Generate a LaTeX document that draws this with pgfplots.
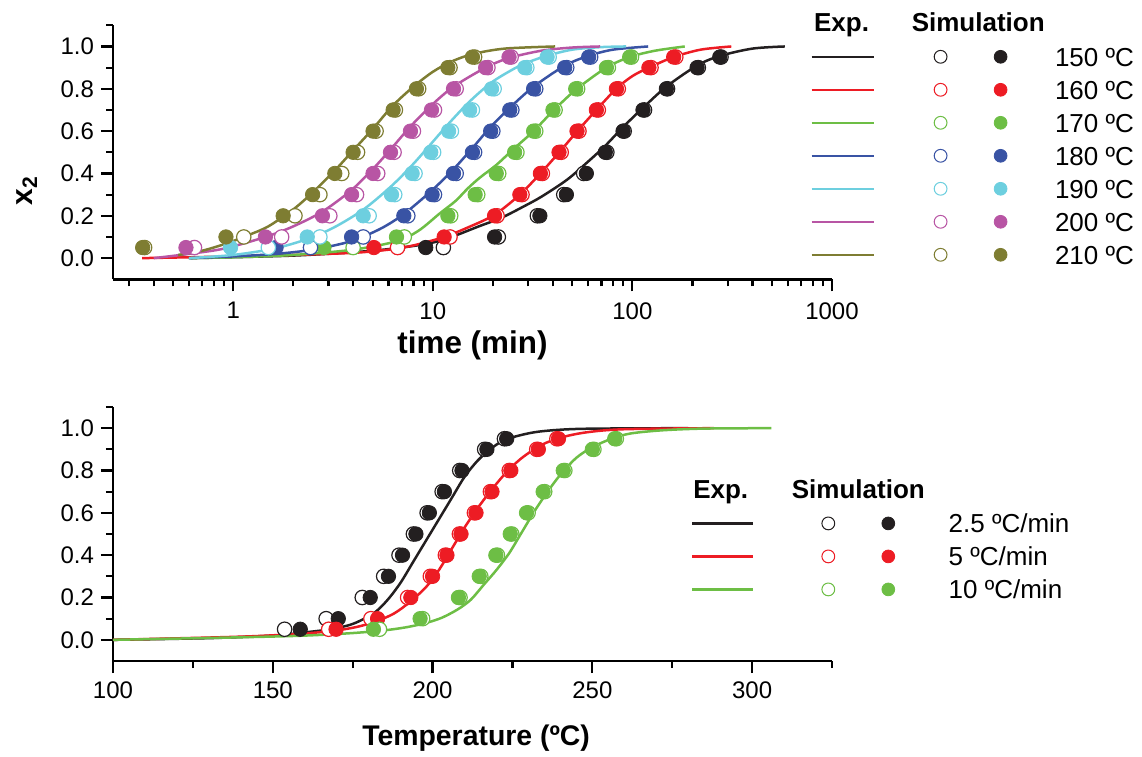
\documentclass[border=0pt]{standalone}
\usepackage{fontspec}
\setmainfont{Liberation Sans}
\usepackage{pgfplots}
\pgfplotsset{compat=1.18}
\definecolor{c150}{HTML}{231F20}
\definecolor{c160}{HTML}{ED1C24}
\definecolor{c170}{HTML}{6DBE45}
\definecolor{c180}{HTML}{3953A4}
\definecolor{c190}{HTML}{6DCFDF}
\definecolor{c200}{HTML}{B855A4}
\definecolor{c210}{HTML}{7E7D32}
\pgfplotsset{
  common/.style={
    width=359.5pt, height=127pt, scale only axis,
    axis lines*=left,
    axis line style={line width=1.3pt, black},
    tick align=outside,
    major tick length=6pt, minor tick length=3.5pt,
    every tick/.style={black, line width=1.1pt},
    ymin=-0.1, ymax=1.1,
    ytick={0,0.2,0.4,0.6,0.8,1.0},
    minor ytick={0.1,0.3,0.5,0.7,0.9,1.1},
    yticklabel style={/pgf/number format/.cd, fixed, fixed zerofill, precision=1},
    /pgf/number format/assume math mode=true,
    tick label style={font=\fontsize{12}{14}\selectfont},
    clip=false,
    legend style={draw=none, fill=none, inner sep=0pt, column sep=0pt, row sep=3.5pt,
      font=\fontsize{13}{15}\selectfont,
      nodes={inner sep=1pt, text height=9pt, text depth=2pt}},
    legend cell align=left,
  },
  ln/.style={color=#1, line width=1.25pt, smooth, no markers, forget plot},
  op/.style={only marks, mark=*, mark size=3.6pt, mark options={fill=white, draw=#1, line width=0.6pt}, forget plot},
  fl/.style={only marks, mark=*, mark size=3.6pt, color=#1, forget plot},
  legA/.style 2 args={legend image code/.code={
    \draw[color=#1, line width=1.2pt] (0pt,0pt) -- (31pt,0pt);
    \draw[draw=#1, fill=white, line width=0.5pt] (64.5pt,0pt) circle (3.2pt);
    \fill[color=#1] (94.5pt,0pt) circle (3.2pt);
    \node[anchor=base west, inner sep=0pt, text height=, text depth=, color=black, font=\fontsize{13}{15}\selectfont] at (121.5pt,-4.65pt) {#2};}},
  legB/.style 2 args={legend image code/.code={
    \draw[color=#1, line width=1.2pt] (0pt,0pt) -- (30.5pt,0pt);
    \draw[draw=#1, fill=white, line width=0.5pt] (68pt,0pt) circle (3.2pt);
    \fill[color=#1] (98pt,0pt) circle (3.2pt);
    \node[anchor=base west, inner sep=0pt, text height=, text depth=, color=black, font=\fontsize{13}{15}\selectfont] at (128pt,-4.65pt) {#2};}},
  headA/.style={legend image code/.code={
    \node[anchor=base, font=\bfseries\fontsize{13}{15}\selectfont, inner sep=0pt, text height=, text depth=, color=black] at (15pt,-4.65pt) {Exp.};
    \node[anchor=base, font=\bfseries\fontsize{13}{15}\selectfont, inner sep=0pt, text height=, text depth=, color=black] at (83.3pt,-4.65pt) {Simulation};}},
  headB/.style={legend image code/.code={
    \node[anchor=base, font=\bfseries\fontsize{13}{15}\selectfont, inner sep=0pt, text height=, text depth=, color=black] at (14.2pt,-4.65pt) {Exp.};
    \node[anchor=base, font=\bfseries\fontsize{13}{15}\selectfont, inner sep=0pt, text height=, text depth=, color=black] at (83pt,-4.65pt) {Simulation};}},
}
\begin{document}
\begin{tikzpicture}
\useasboundingbox (0pt,0pt) rectangle (571pt,378pt);
% ---------------- top panel ----------------
\begin{axis}[common, xmode=log,
  at={(56.5pt,238.35pt)}, anchor=south west,
  xmin=0.25, xmax=1000,
  xtick={1,10,100,1000}, xticklabels={1,10,100,1000},
  xticklabel style={yshift=-2pt},
  minor xtick={0.3,0.4,0.5,0.6,0.7,0.8,0.9,2,3,4,5,6,7,8,9,20,30,40,50,60,70,80,90,200,300,400,500,600,700,800,900},
  xlabel={time (min)},
  xlabel style={font=\bfseries\fontsize{15.7}{18}\selectfont, at={(axis description cs:0.50,-0.259)}, anchor=center},
  ylabel={x\textsubscript{2}},
  ylabel style={font=\bfseries\fontsize{15}{18}\selectfont, at={(axis description cs:-0.12,0.35)}, anchor=center},
  legend style={at={(axis description cs:0.9694,1.0654)}, anchor=north west},
]
% 150
\addplot[ln=c150] coordinates {(0.61,0) (2,0.012) (5,0.035) (9,0.065) (12,0.095) (17,0.15) (22,0.19) (28,0.24) (35,0.29) (47,0.37) (59,0.45) (73,0.53) (90,0.62) (113,0.71) (148,0.81) (211,0.91) (274,0.955) (400,0.99) (580,1.0)};
\addplot[op=c150] coordinates {(11.3,0.05) (21.3,0.1) (33.4,0.2) (45.3,0.3) (57,0.4) (74.5,0.5) (91,0.6) (115,0.7) (150,0.8) (214,0.9) (278,0.95)};
\addplot[fl=c150] coordinates {(9.22,0.05) (20.4,0.1) (34.4,0.2) (46.7,0.3) (58.8,0.4) (73.2,0.5) (89.8,0.6) (113,0.7) (148,0.8) (211,0.9) (274,0.95)};
% 160
\addplot[ln=c160] coordinates {(0.35,0) (1,0.008) (2,0.015) (4,0.025) (6,0.04) (8,0.06) (11.4,0.1) (15,0.145) (20.4,0.205) (27.3,0.3) (34.6,0.4) (43,0.5) (53,0.6) (66,0.7) (83,0.8) (100,0.86) (121,0.9) (161,0.95) (220,0.985) (313,1.0)};
\addplot[op=c160] coordinates {(6.66,0.05) (12.2,0.1) (21,0.2) (28,0.3) (35.4,0.4) (44,0.5) (54,0.6) (67.5,0.7) (85,0.8) (124,0.9) (165,0.95)};
\addplot[fl=c160] coordinates {(5.07,0.05) (11.4,0.1) (20.4,0.2) (27.3,0.3) (34.6,0.4) (42.9,0.5) (52.8,0.6) (66,0.7) (83.2,0.8) (121,0.9) (161,0.95)};
% 170
\addplot[ln=c170] coordinates {(0.6,0) (1,0.004) (2,0.015) (4,0.04) (6.6,0.08) (8.5,0.13) (10.8,0.21) (13,0.27) (15,0.33) (17.2,0.38) (20.8,0.44) (25.7,0.52) (32,0.6) (40,0.695) (52,0.795) (74,0.9) (97,0.95) (130,0.98) (183,1.0)};
\addplot[op=c170] coordinates {(3.99,0.05) (7.2,0.1) (12.3,0.2) (16.8,0.3) (21.4,0.4) (26.4,0.5) (32.8,0.6) (41,0.7) (53.2,0.8) (75.8,0.9) (99,0.95)};
\addplot[fl=c170] coordinates {(2.85,0.05) (6.58,0.1) (11.9,0.2) (16.3,0.3) (20.8,0.4) (25.7,0.5) (32.0,0.6) (40.0,0.7) (52.0,0.8) (74.1,0.9) (96.9,0.95)};
% 180
\addplot[ln=c180] coordinates {(0.6,0) (1,0.008) (1.64,0.02) (2.5,0.04) (3.9,0.08) (5.5,0.14) (7.2,0.21) (9.9,0.32) (12.7,0.42) (15.8,0.52) (19.5,0.62) (24.3,0.71) (32,0.81) (46,0.91) (60,0.955) (80,0.985) (120,1.0)};
\addplot[op=c180] coordinates {(2.44,0.05) (4.48,0.1) (7.5,0.2) (10.2,0.3) (13.1,0.4) (16.2,0.5) (20,0.6) (24.9,0.7) (32.8,0.8) (46.9,0.9) (61.8,0.95)};
\addplot[fl=c180] coordinates {(1.64,0.05) (3.92,0.1) (7.16,0.2) (9.92,0.3) (12.7,0.4) (15.8,0.5) (19.5,0.6) (24.3,0.7) (32.0,0.8) (45.8,0.9) (60.4,0.95)};
% 190
\addplot[ln=c190] coordinates {(0.6,0) (1,0.015) (1.6,0.045) (2.35,0.09) (3.2,0.145) (4.5,0.23) (6.2,0.34) (7.9,0.44) (9.8,0.54) (12,0.635) (15.3,0.74) (19.7,0.83) (25,0.89) (29,0.92) (37,0.955) (50,0.985) (70,0.997) (93,1.0)};
\addplot[op=c190] coordinates {(1.50,0.05) (2.72,0.1) (4.8,0.2) (6.45,0.3) (8.15,0.4) (10.1,0.5) (12.4,0.6) (15.8,0.7) (20.3,0.8) (29.6,0.9) (38.3,0.95)};
\addplot[fl=c190] coordinates {(0.97,0.05) (2.35,0.1) (4.48,0.2) (6.21,0.3) (7.88,0.4) (9.77,0.5) (12.0,0.6) (15.3,0.7) (19.7,0.8) (28.9,0.9) (37.4,0.95)};
% 200
\addplot[ln=c200] coordinates {(0.4,0) (0.6,0.02) (0.9,0.045) (1.45,0.1) (2.0,0.15) (2.8,0.22) (3.9,0.32) (5.0,0.42) (6.1,0.51) (7.7,0.62) (9.8,0.72) (12.7,0.81) (18.4,0.9) (24,0.945) (35,0.98) (50,0.995) (69,1.0)};
\addplot[op=c200] coordinates {(0.64,0.05) (1.75,0.1) (3.05,0.2) (4.15,0.3) (5.3,0.4) (6.4,0.5) (8.0,0.6) (10.2,0.7) (13.1,0.8) (18.9,0.9) (24.7,0.95)};
\addplot[fl=c200] coordinates {(0.58,0.05) (1.45,0.1) (2.80,0.2) (3.92,0.3) (5.02,0.4) (6.14,0.5) (7.73,0.6) (9.85,0.7) (12.7,0.8) (18.4,0.9) (24.1,0.95)};
% 210
\addplot[ln=c210] coordinates {(0.53,0.015) (0.7,0.035) (0.93,0.07) (1.2,0.11) (1.5,0.15) (2.0,0.23) (2.5,0.31) (3.2,0.41) (4.0,0.51) (5.0,0.61) (6.3,0.72) (8.0,0.81) (10,0.88) (12.5,0.93) (16,0.965) (23,0.99) (41,1.0)};
\addplot[op=c210] coordinates {(0.36,0.05) (1.13,0.1) (2.04,0.2) (2.72,0.3) (3.5,0.4) (4.2,0.5) (5.2,0.6) (6.5,0.7) (8.5,0.8) (12.2,0.9) (16.2,0.95)};
\addplot[fl=c210] coordinates {(0.352,0.05) (0.92,0.1) (1.78,0.2) (2.5,0.3) (3.23,0.4) (3.99,0.5) (5.02,0.6) (6.33,0.7) (8.28,0.8) (11.9,0.9) (15.8,0.95)};
% legend
\addlegendimage{headA}\addlegendentry{}
\addlegendimage{legA={c150}{150 ºC}}\addlegendentry{}
\addlegendimage{legA={c160}{160 ºC}}\addlegendentry{}
\addlegendimage{legA={c170}{170 ºC}}\addlegendentry{}
\addlegendimage{legA={c180}{180 ºC}}\addlegendentry{}
\addlegendimage{legA={c190}{190 ºC}}\addlegendentry{}
\addlegendimage{legA={c200}{200 ºC}}\addlegendentry{}
\addlegendimage{legA={c210}{210 ºC}}\addlegendentry{}
\end{axis}
% ---------------- bottom panel ----------------
\begin{axis}[common,
  at={(56.5pt,47.5pt)}, anchor=south west,
  xmin=100, xmax=325,
  xtick={100,150,200,250,300},
  minor xtick={125,175,225,275,325},
  xticklabel style={yshift=-1pt},
  xlabel={Temperature (ºC)},
  xlabel style={font=\bfseries\fontsize{14.2}{17}\selectfont, at={(axis description cs:0.505,-0.303)}, anchor=center},
  legend style={at={(axis description cs:0.8035,0.731)}, anchor=north west},
]
\addplot[ln=c150] coordinates {(100,0) (130,0.008) (150,0.02) (160,0.035) (168,0.05) (174,0.07) (178,0.095) (182,0.13) (186,0.19) (190,0.27) (194,0.37) (198,0.47) (202,0.57) (206,0.67) (210,0.77) (214,0.845) (218,0.9) (222,0.94) (227,0.965) (234,0.985) (247,0.997) (280,1.0)};
\addplot[op=c150] coordinates {(153.7,0.05) (166.7,0.1) (178,0.2) (184.7,0.3) (189.5,0.4) (194,0.5) (198.3,0.6) (203,0.7) (208.5,0.8) (216.3,0.9) (222.5,0.95)};
\addplot[fl=c150] coordinates {(158.6,0.05) (170.5,0.1) (180.5,0.2) (186.2,0.3) (190.6,0.4) (194.8,0.5) (199.0,0.6) (203.7,0.7) (209.2,0.8) (217.0,0.9) (223.2,0.95)};
\addplot[ln=c160] coordinates {(100,0) (140,0.015) (160,0.03) (170,0.045) (176,0.06) (182,0.085) (188,0.125) (193,0.18) (198,0.25) (202,0.33) (206,0.43) (210,0.53) (214,0.62) (218,0.70) (223,0.79) (228,0.86) (234,0.92) (240,0.955) (248,0.98) (260,0.995) (288,1.0)};
\addplot[op=c160] coordinates {(167.5,0.05) (180.7,0.1) (192.2,0.2) (199.3,0.3) (204,0.4) (208.4,0.5) (213.1,0.6) (218.1,0.7) (224,0.8) (232.6,0.9) (238.9,0.95)};
\addplot[fl=c160] coordinates {(169.8,0.05) (182.8,0.1) (193.2,0.2) (200,0.3) (204.5,0.4) (208.9,0.5) (213.6,0.6) (218.6,0.7) (224.5,0.8) (233.1,0.9) (239.4,0.95)};
\addplot[ln=c170] coordinates {(100,0) (140,0.012) (160,0.02) (175,0.032) (185,0.045) (192,0.06) (198,0.08) (203,0.105) (208,0.145) (212,0.19) (216,0.26) (220,0.33) (224,0.41) (228,0.51) (232,0.61) (236,0.70) (240,0.78) (245,0.86) (250,0.91) (256,0.95) (262,0.975) (272,0.99) (285,0.998) (306,1.0)};
\addplot[op=c170] coordinates {(183.4,0.05) (196.9,0.1) (208.6,0.2) (215.1,0.3) (220.3,0.4) (224.8,0.5) (229.9,0.6) (235.1,0.7) (241.4,0.8) (250.5,0.9) (257.5,0.95)};
\addplot[fl=c170] coordinates {(181.5,0.05) (196.1,0.1) (208.1,0.2) (214.6,0.3) (219.8,0.4) (224.3,0.5) (229.4,0.6) (234.6,0.7) (240.9,0.8) (250,0.9) (257,0.95)};
\addlegendimage{headB}\addlegendentry{}
\addlegendimage{legB={c150}{2.5 ºC/min}}\addlegendentry{}
\addlegendimage{legB={c160}{5 ºC/min}}\addlegendentry{}
\addlegendimage{legB={c170}{10 ºC/min}}\addlegendentry{}
\end{axis}
\end{tikzpicture}
\end{document}
